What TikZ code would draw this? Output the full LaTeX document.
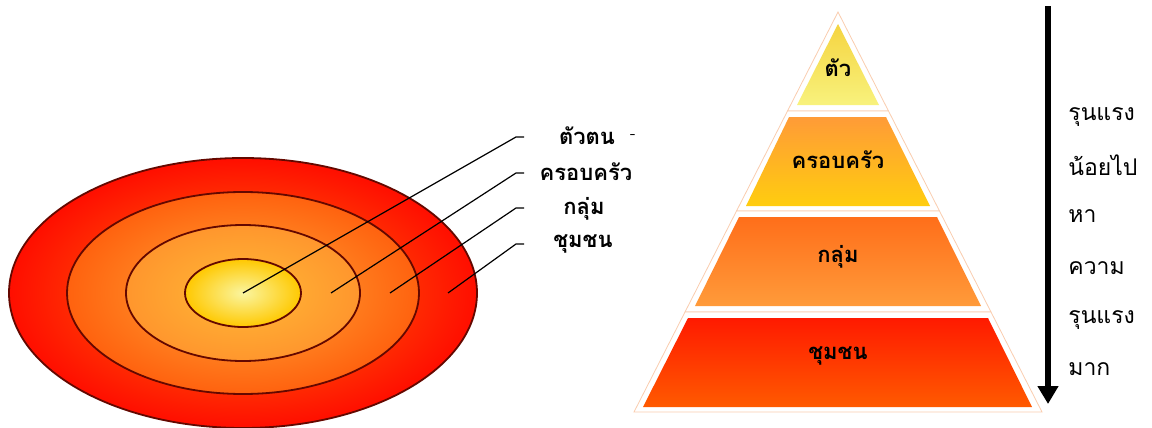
\documentclass[tikz,border=0pt]{standalone}
\usepackage{fontspec}
\newfontfamily\thaifont[Script=Thai]{Loma}
\usetikzlibrary{shapes.geometric,arrows.meta}
\definecolor{ringedge}{RGB}{100,8,0}
\definecolor{peach}{RGB}{250,205,175}

\begin{document}
\begin{tikzpicture}[x=0.5pt,y=-0.5pt,
  ring/.style={ellipse,draw=ringedge,line width=0.9pt,shading=radial,inner sep=0pt},
  lbl/.style={font=\thaifont\bfseries\fontsize{11}{13}\selectfont,inner sep=0pt},
  sidetxt/.style={font=\thaifont\fontsize{11.5}{14}\selectfont,anchor=west,inner sep=0pt},
  lead/.style={draw=black,line width=0.6pt},
  layer/.style={draw=peach,fill=white,line width=0.4pt}]
\useasboundingbox (0,0) rectangle (1152,428);
% target ellipses:
\node[ring,minimum width=234pt,minimum height=135pt,inner color={rgb,255:red,255;green,120;blue,10},outer color={rgb,255:red,255;green,14;blue,0}] (comm) at (243,293) {};
\node[ring,minimum width=176pt,minimum height=101pt,inner color={rgb,255:red,255;green,170;blue,55},outer color={rgb,255:red,255;green,98;blue,15}] (grp) at (243,293) {};
\node[ring,minimum width=117pt,minimum height=68pt,inner color={rgb,255:red,255;green,185;blue,55},outer color={rgb,255:red,255;green,150;blue,45}] (fam) at (243,293) {};
\node[ring,minimum width=58pt,minimum height=34pt,inner color={rgb,255:red,250;green,245;blue,160},outer color={rgb,255:red,255;green,200;blue,0}] (self) at (243,293) {};
% labels:
\node[lbl] (l1) at (587,136) {ตัวตน};
\node[lbl] (l2) at (586,172) {ครอบครัว};
\node[lbl] (l3) at (584,209) {กลุ่ม};
\node[lbl] (l4) at (583,244) {ชุมชน};
\node[lbl,font=\fontsize{8}{8}\selectfont] (dash) at (633,137) {-};
% leader lines:
\coordinate (p1) at (243,293); \coordinate (p2) at (331,293);
\coordinate (p3) at (390,293); \coordinate (p4) at (448,293);
\foreach \i/\y in {1/137,2/173,3/208,4/244}{
  \coordinate (k\i) at (516,\y); \coordinate (e\i) at (524,\y);
  \draw[lead] (p\i) -- (k\i) -- (e\i);
}
% pyramid, white frame:
\draw[layer] (838,12) -- (888.5,111) -- (787.5,111) -- cycle;
\draw[layer] (787.5,111) -- (888.5,111) -- (939.5,211) -- (736.5,211) -- cycle;
\draw[layer] (736.5,211) -- (939.5,211) -- (991,312) -- (685,312) -- cycle;
\draw[layer] (685,312) -- (991,312) -- (1042,412) -- (634,412) -- cycle;
% pyramid, coloured levels:
\shade[top color={rgb,255:red,245;green,212;blue,64},bottom color={rgb,255:red,248;green,242;blue,125}] (838,24) -- (879,105) -- (797,105) -- cycle;
\shade[top color={rgb,255:red,255;green,155;blue,55},bottom color={rgb,255:red,255;green,205;blue,15}] (789,117) -- (886,117) -- (930,206) -- (746,206) -- cycle;
\shade[top color={rgb,255:red,255;green,110;blue,26},bottom color={rgb,255:red,255;green,155;blue,58}] (739,217) -- (937,217) -- (981,306) -- (695,306) -- cycle;
\shade[top color={rgb,255:red,255;green,26;blue,0},bottom color={rgb,255:red,255;green,90;blue,0}] (688,318) -- (988,318) -- (1032,407) -- (643,407) -- cycle;
\node[lbl] (t1) at (838,68) {ตัว};
\node[lbl] (t2) at (838,160) {ครอบครัว};
\node[lbl] (t3) at (838,257) {กลุ่ม};
\node[lbl] (t4) at (838,356) {ชุมชน};
% arrow and its text:
\coordinate (atop) at (1048,6); \coordinate (abot) at (1048,404);
\draw[line width=3pt,-{Triangle[width=10pt,length=9pt]}] (atop) -- (abot);
\node[sidetxt] (s1) at (1068,117) {รุนแรง};
\node[sidetxt] (s2) at (1068,165) {น้อยไป};
\node[sidetxt] (s3) at (1068,216) {หา};
\node[sidetxt] (s4) at (1068,268) {ความ};
\node[sidetxt] (s5) at (1068,320) {รุนแรง};
\node[sidetxt] (s6) at (1068,369) {มาก};
\end{tikzpicture}
\end{document}
